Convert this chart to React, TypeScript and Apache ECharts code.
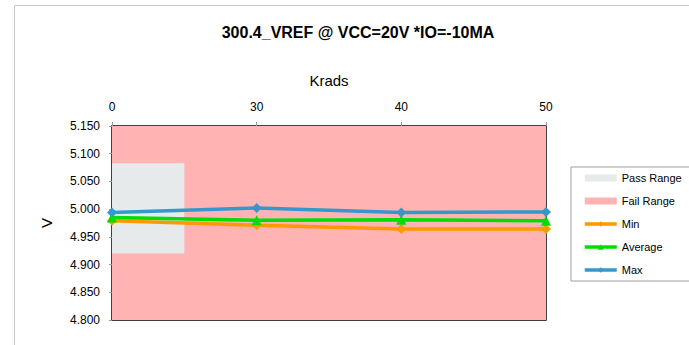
import React, { useEffect, useRef } from "react";
import * as echarts from "echarts";

const categories = ["0", "30", "40", "50"];
const minValues = [4.979, 4.971, 4.964, 4.964];
const avgValues = [4.985, 4.98, 4.981, 4.979];
const maxValues = [4.994, 5.002, 4.994, 4.995];
const passRangeY = [4.92, 5.083];
const passRangeX = [0, 0.5];
const failRangeY = [4.8, 5.15];
const failRangeX = [0, 3];

const FONT = "'Liberation Sans', Arial, sans-serif";

export default function App() {
  const ref = useRef<HTMLDivElement>(null);
  useEffect(() => {
    if (!ref.current) return;
    const chart = echarts.init(ref.current, undefined, { renderer: "svg" });
    const lineSeries = (name: string, data: number[], color: string, symbol: string, size: number) => ({
      name,
      type: "line",
      data,
      xAxisIndex: 0,
      yAxisIndex: 0,
      z: 5,
      symbol,
      symbolSize: size,
      showSymbol: true,
      lineStyle: { color, width: 3.5 },
      itemStyle: { color },
    });
    chart.setOption({
      animation: false,
      backgroundColor: "#ffffff",
      textStyle: { fontFamily: FONT },
      title: {
        text: "300.4_VREF @ VCC=20V *IO=-10MA",
        left: 353,
        top: 19,
        textAlign: "center",
        textStyle: { fontSize: 16, fontWeight: "bold", color: "#000", fontFamily: FONT },
      },
      graphic: [
        {
          type: "rect",
          shape: { x: 14.5, y: 5.5, width: 700, height: 400 },
          style: { fill: "none", stroke: "#c8c8c8", lineWidth: 1 },
          silent: true,
          z: -10,
        },
      ],
      legend: {
        orient: "vertical",
        left: 571,
        top: 167,
        padding: [4, 8, 4, 12],
        itemGap: 9,
        itemWidth: 32,
        itemHeight: 7,
        borderColor: "#a0a0a0",
        borderWidth: 1,
        lineStyle: { width: 3.5 },
        textStyle: { fontSize: 11, color: "#000", fontFamily: FONT, lineHeight: 14, width: 62 },
        data: [
          { name: "Pass Range", icon: "rect" },
          { name: "Fail Range", icon: "rect" },
          { name: "Min" },
          { name: "Average" },
          { name: "Max" },
        ],
      },
      grid: {
        left: 112,
        top: 126,
        right: 143,
        bottom: 25,
        show: true,
        borderColor: "#000",
        borderWidth: 1.5,
        backgroundColor: "transparent",
      },
      xAxis: [
        {
          type: "category",
          position: "top",
          data: categories,
          boundaryGap: false,
          name: "Krads",
          nameLocation: "middle",
          nameGap: 38,
          nameTextStyle: { fontSize: 15, color: "#000", fontFamily: FONT },
          axisLine: { show: false },
          axisTick: { show: true, length: 4, inside: false, lineStyle: { color: "#999" } },
          axisLabel: { fontSize: 12, color: "#000", margin: 13, fontFamily: FONT },
          splitLine: { show: false },
        },
        {
          type: "value",
          position: "top",
          min: 0,
          max: 3,
          show: false,
        },
      ],
      yAxis: {
        type: "value",
        min: 4.8,
        max: 5.15,
        interval: 0.05,
        name: "V",
        nameLocation: "middle",
        nameGap: 58,
        nameRotate: 90,
        nameTextStyle: { fontSize: 15, color: "#000", fontFamily: FONT },
        axisLine: { show: false },
        axisTick: { show: true, length: 3, lineStyle: { color: "#999" } },
        axisLabel: {
          fontSize: 12,
          color: "#000",
          margin: 12,
          fontFamily: FONT,
          formatter: (v: number) => v.toFixed(3),
        },
        splitLine: { show: false },
      },
      series: [
        {
          name: "Fail Range",
          type: "line",
          xAxisIndex: 1,
          yAxisIndex: 0,
          data: [],
          z: 1,
          itemStyle: { color: "#ffb3b3" },
          lineStyle: { width: 0 },
          markArea: {
            silent: true,
            itemStyle: { color: "#ffb3b3", opacity: 1 },
            data: [[{ xAxis: failRangeX[0], yAxis: failRangeY[0] }, { xAxis: failRangeX[1], yAxis: failRangeY[1] }]],
          },
        },
        {
          name: "Pass Range",
          type: "line",
          xAxisIndex: 1,
          yAxisIndex: 0,
          data: [],
          z: 2,
          itemStyle: { color: "#e6eaea" },
          lineStyle: { width: 0 },
          markArea: {
            silent: true,
            itemStyle: { color: "#e6eaea", opacity: 1 },
            data: [[{ xAxis: passRangeX[0], yAxis: passRangeY[0] }, { xAxis: passRangeX[1], yAxis: passRangeY[1] }]],
          },
        },
        lineSeries("Min", minValues, "#ff9900", "diamond", 10),
        lineSeries("Average", avgValues, "#00dd00", "triangle", 10),
        lineSeries("Max", maxValues, "#3399cc", "diamond", 10),
      ],
    });
    return () => chart.dispose();
  }, []);
  return (
    <div
      ref={ref}
      style={{ position: "fixed", left: 0, top: 0, width: 689, height: 345, background: "#fff" }}
    />
  );
}
